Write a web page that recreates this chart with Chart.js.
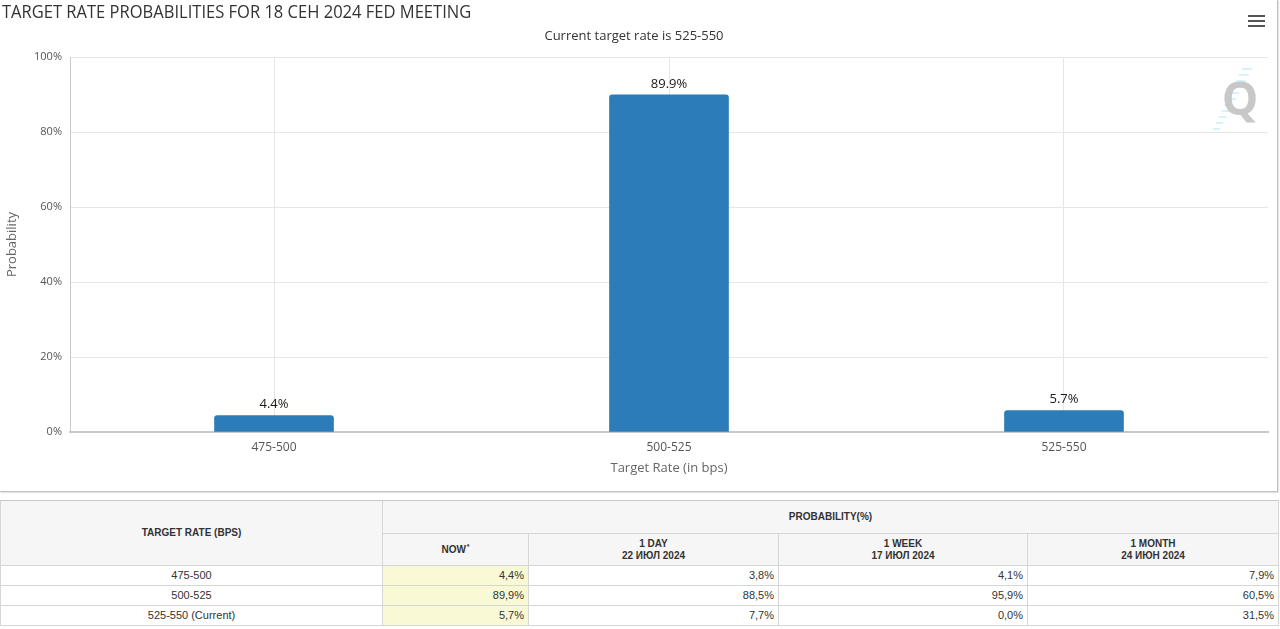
<!DOCTYPE html>
<html>
<head>
<meta charset="utf-8">
<script src="https://cdn.jsdelivr.net/npm/chart.js@4.4.1/dist/chart.umd.min.js"></script>
<style>
html,body{margin:0;padding:0;background:#fff;width:1280px;height:629px;overflow:hidden;}
#wrap{position:absolute;left:0;top:0;width:1277px;height:491px;border-right:1px solid #c2c2c2;border-bottom:1px solid #c2c2c2;box-shadow:1px 1px 1px #e4e4e4;}
#title{position:absolute;left:2px;top:-2px;font-family:"Open Sans",sans-serif;font-size:19px;color:#333;white-space:nowrap;transform:scaleX(0.87);transform-origin:0 0;z-index:2;}
#menu{position:absolute;left:1248px;top:15px;width:17px;z-index:2;}
#menu span{display:block;height:2px;background:#555;margin-bottom:3px;}
table{position:absolute;left:0;top:500px;width:1278px;border-collapse:collapse;table-layout:fixed;font-family:"Liberation Sans",Arial,sans-serif;font-size:11px;color:#333;}
th{background:#f6f6f6;font-weight:bold;font-size:10px;border:1px solid #d6d6d6;text-align:center;line-height:12px;padding:0;}
table tr:first-child th{border-top:1px solid #c8c8c8;}
td{border:1px solid #d6d6d6;padding:0 4px;height:19px;line-height:19px;}
td.rate{text-align:center;}
td.num{text-align:right;}
td.now{background:#f9f9d6;}
th sup{font-size:7px;vertical-align:top;position:relative;top:-3px;margin-left:1px;}
</style>
</head>
<body>
<div id="title">TARGET RATE PROBABILITIES FOR 18 СЕН 2024 FED MEETING</div>
<div id="menu"><span></span><span></span><span></span></div>
<div id="wrap"><canvas id="c"></canvas></div>
<table id="tbl"></table>
<script>
// ---- chart data ----
const categories = ['475-500', '500-525', '525-550'];
const nowValues = [4.4, 89.9, 5.7];
const yTickStep = 20;
const subtitleText = 'Current target rate is 525-550';
const xAxisTitle = 'Target Rate (in bps)';
const yAxisTitle = 'Probability';

// ---- table data ----
const tableRates = ['475-500', '500-525', '525-550 (Current)'];
const tableNow = [4.4, 89.9, 5.7];
const tableDay = [3.8, 88.5, 7.7];
const tableWeek = [4.1, 95.9, 0.0];
const tableMonth = [7.9, 60.5, 31.5];
const periodNames = ['1 DAY', '1 WEEK', '1 MONTH'];
const periodDates = ['22 ИЮЛ 2024', '17 ИЮЛ 2024', '24 ИЮН 2024'];

const FONT = '"Open Sans", sans-serif';

// build table
(function () {
  const fmt = v => v.toFixed(1).replace('.', ',') + '%';
  let h = '<colgroup><col style="width:382px"><col style="width:146px"><col style="width:250px"><col style="width:249px"><col style="width:251px"></colgroup>';
  h += '<tr style="height:33px"><th rowspan="2">TARGET RATE (BPS)</th><th colspan="4">PROBABILITY(%)</th></tr>';
  h += '<tr style="height:32px"><th>NOW<sup>*</sup></th>';
  for (let i = 0; i < periodNames.length; i++) h += '<th>' + periodNames[i] + '<br>' + periodDates[i] + '</th>';
  h += '</tr>';
  for (let r = 0; r < tableRates.length; r++) {
    h += '<tr><td class="rate">' + tableRates[r] + '</td><td class="num now">' + fmt(tableNow[r]) +
      '</td><td class="num">' + fmt(tableDay[r]) + '</td><td class="num">' + fmt(tableWeek[r]) +
      '</td><td class="num">' + fmt(tableMonth[r]) + '</td></tr>';
  }
  document.getElementById('tbl').innerHTML = h;
})();

const valueLabels = {
  id: 'valueLabels',
  afterDatasetsDraw(chart) {
    const ctx = chart.ctx;
    const meta = chart.getDatasetMeta(0);
    ctx.save();
    ctx.font = '13px ' + FONT;
    ctx.fillStyle = '#1a1a1a';
    ctx.textAlign = 'center';
    ctx.textBaseline = 'middle';
    meta.data.forEach((bar, i) => {
      ctx.fillText(nowValues[i].toFixed(1) + '%', bar.x, bar.y - 11);
    });
    ctx.restore();
  }
};

const watermark = {
  id: 'watermark',
  afterDraw(chart) {
    const ctx = chart.ctx;
    const a = chart.chartArea;
    const cx = a.right - 28, cy = a.top + 45;
    ctx.save();
    ctx.strokeStyle = 'rgba(120,215,235,0.6)';
    ctx.lineWidth = 1;
    for (let k = 0; k < 11; k++) {
      const y = cy - 33 + k * 6;
      const x = cx + 10 - k * 3.2;
      ctx.beginPath();
      ctx.moveTo(x - 8 + k * 0.3, y);
      ctx.lineTo(x + 2, y);
      ctx.stroke();
    }
    ctx.font = 'bold 46px ' + FONT;
    ctx.fillStyle = 'rgba(190,190,190,0.85)';
    ctx.textAlign = 'center';
    ctx.textBaseline = 'middle';
    ctx.fillText('Q', cx, cy);
    ctx.restore();
  }
};

new Chart(document.getElementById('c'), {
  type: 'bar',
  data: {
    datasets: [{
      data: nowValues.map((v, i) => ({ x: i, y: v })),
      backgroundColor: '#2b7cb8',
      borderRadius: { topLeft: 3, topRight: 3 },
      borderSkipped: 'start',
      barThickness: 119
    }]
  },
  options: {
    responsive: true,
    maintainAspectRatio: false,
    animation: false,
    layout: { padding: { left: 0, right: 9, top: 0, bottom: 11 } },
    plugins: {
      legend: { display: false },
      tooltip: { enabled: false },
      title: {
        display: true,
        text: subtitleText,
        color: '#333',
        font: { family: FONT, size: 13, weight: 'normal' },
        padding: { top: 28, bottom: 13.4 }
      }
    },
    scales: {
      x: {
        type: 'linear',
        offset: false,
        min: -0.5165,
        max: categories.length - 1 + 0.5165,
        afterBuildTicks: s => { s.ticks = categories.map((_, i) => ({ value: i })); },
        afterFit: s => { s.height = 48; },
        grid: { offset: false, color: '#e6e6e6', drawTicks: false },
        border: { color: '#c8c8c8', width: 2 },
        ticks: { padding: 8, color: '#555', font: { family: FONT, size: 12 }, callback: v => categories[v] },
        title: { display: true, text: xAxisTitle, color: '#666', font: { family: FONT, size: 13 }, padding: { top: 4, bottom: 4 } }
      },
      y: {
        min: 0, max: 100,
        afterFit: s => { s.width = 70; },
        grid: { color: '#e6e6e6', drawTicks: false },
        border: { color: '#c8c8c8', width: 1 },
        ticks: { stepSize: yTickStep, padding: 8, color: '#555', font: { family: FONT, size: 11 }, callback: v => v + '%' },
        title: { display: true, text: yAxisTitle, color: '#666', font: { family: FONT, size: 13 }, padding: { top: 4, bottom: 4 } }
      }
    }
  },
  plugins: [valueLabels, watermark]
});
</script>
</body>
</html>
